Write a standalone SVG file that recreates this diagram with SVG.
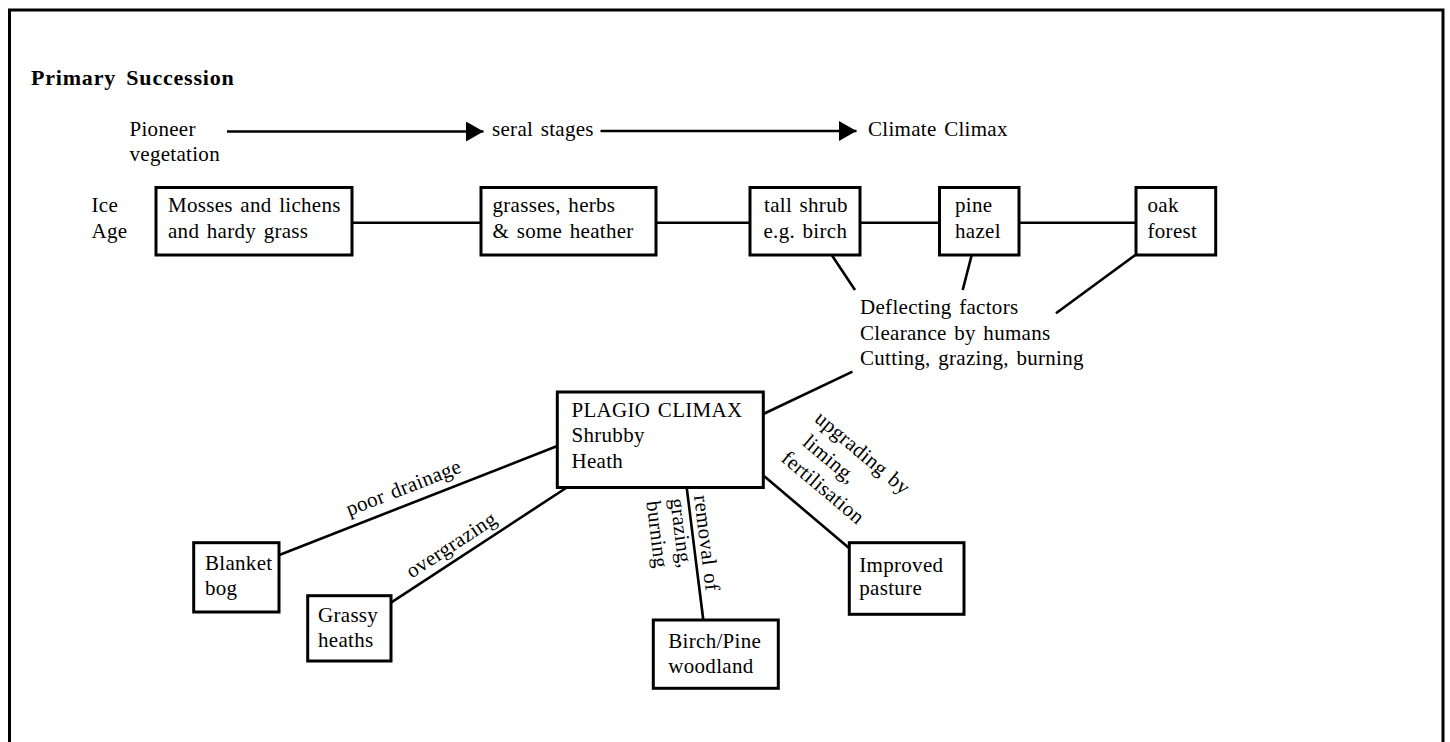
<svg xmlns="http://www.w3.org/2000/svg" width="1450" height="742" viewBox="0 0 1450 742">
<style>
  text { font-family: "Liberation Serif", "Times New Roman", serif; font-size: 21px; fill: #000; letter-spacing: 0.3px; word-spacing: 2px; }
  .title { font-weight: bold; font-size: 22px; letter-spacing: 0.8px; word-spacing: 4px; }
  .box { fill: #fff; stroke: #000; stroke-width: 3; }
  .ln { stroke: #000; stroke-width: 2.6; fill: none; }
  .frame { fill: none; stroke: #000; stroke-width: 3; }
</style>
<defs>
  <marker id="arr" markerUnits="userSpaceOnUse" markerWidth="18" markerHeight="20" refX="17.5" refY="10" orient="auto">
    <path d="M0,0 L17.5,10 L0,20 Z" fill="#000"/>
  </marker>
</defs>
<rect width="1450" height="742" fill="#fff"/>
<rect class="frame" x="9.5" y="10" width="1433.5" height="745"/>
<text class="title" x="31" y="85">Primary Succession</text>

<g id="labels-top">
  <text x="129.5" y="136">Pioneer</text>
  <text x="129.5" y="161">vegetation</text>
  <text x="492" y="136">seral stages</text>
  <text x="868" y="136">Climate Climax</text>
  <text x="91.5" y="212">Ice</text>
  <text x="91.5" y="238">Age</text>
</g>

<g id="connectors">
  <line class="ln" x1="227" y1="131.5" x2="483.5" y2="131.5" marker-end="url(#arr)"/>
  <line class="ln" x1="600.5" y1="131" x2="856.5" y2="131" marker-end="url(#arr)"/>
  <line class="ln" x1="352" y1="222.7" x2="481" y2="222.7"/>
  <line class="ln" x1="656" y1="222.7" x2="750" y2="222.7"/>
  <line class="ln" x1="860" y1="222.7" x2="939.5" y2="222.7"/>
  <line class="ln" x1="1019" y1="222.7" x2="1136" y2="222.7"/>
  <line class="ln" x1="831.7" y1="255" x2="855" y2="290"/>
  <line class="ln" x1="971.7" y1="255" x2="962.7" y2="290"/>
  <line class="ln" x1="1136" y1="254.5" x2="1056" y2="313.3"/>
  <line class="ln" x1="763.3" y1="414" x2="852.5" y2="371.7"/>
  <line class="ln" x1="557.3" y1="446" x2="279.3" y2="555"/>
  <line class="ln" x1="566" y1="488" x2="391" y2="602.7"/>
  <line class="ln" x1="686.7" y1="487.7" x2="703.3" y2="620"/>
  <line class="ln" x1="764" y1="476" x2="849.3" y2="548.3"/>
  <text transform="translate(406 494) rotate(-21.4)" text-anchor="middle">poor drainage</text>
  <text transform="translate(455 550.5) rotate(-33.2)" text-anchor="middle">overgrazing</text>
  <g transform="translate(694 496) rotate(83)">
    <text x="0" y="0">removal of</text>
    <text x="0" y="24">grazing,</text>
    <text x="0" y="48">burning</text>
  </g>
  <g transform="translate(813.5 420.5) rotate(40)">
    <text x="0" y="0">upgrading by</text>
    <text x="6" y="26">liming,</text>
    <text x="0" y="52">fertilisation</text>
  </g>
</g>

<g id="deflecting">
  <text x="860" y="314">Deflecting factors</text>
  <text x="860" y="339.5">Clearance by humans</text>
  <text x="860" y="365">Cutting, grazing, burning</text>
</g>

<g id="mosses">
  <rect class="box" x="156" y="187.5" width="196" height="67.5"/>
  <text x="168" y="212">Mosses and lichens</text>
  <text x="168" y="238">and hardy grass</text>
</g>
<g id="grasses">
  <rect class="box" x="481" y="187.5" width="175" height="67.5"/>
  <text x="492.5" y="212">grasses, herbs</text>
  <text x="492.5" y="238">&amp; some heather</text>
</g>
<g id="tallshrub">
  <rect class="box" x="750" y="187.5" width="110" height="67.5"/>
  <text x="764" y="212">tall shrub</text>
  <text x="763.5" y="238">e.g. birch</text>
</g>
<g id="pine">
  <rect class="box" x="939.5" y="187.5" width="79.5" height="67.5"/>
  <text x="955" y="212">pine</text>
  <text x="955" y="238">hazel</text>
</g>
<g id="oak">
  <rect class="box" x="1136" y="187.5" width="79.7" height="67.5"/>
  <text x="1147.5" y="212">oak</text>
  <text x="1147.5" y="238">forest</text>
</g>
<g id="plagio">
  <rect class="box" x="557.3" y="392" width="206" height="95.5"/>
  <text x="571.5" y="416.5">PLAGIO CLIMAX</text>
  <text x="571.5" y="442">Shrubby</text>
  <text x="571.5" y="467.5">Heath</text>
</g>
<g id="blanket">
  <rect class="box" x="193.7" y="542.7" width="85.3" height="69.3"/>
  <text x="205" y="570">Blanket</text>
  <text x="205" y="595">bog</text>
</g>
<g id="grassy">
  <rect class="box" x="307.7" y="595.7" width="83.3" height="65.3"/>
  <text x="318" y="621.7">Grassy</text>
  <text x="318" y="647">heaths</text>
</g>
<g id="birchpine">
  <rect class="box" x="653.3" y="620" width="125" height="68.3"/>
  <text x="668.3" y="648.3">Birch/Pine</text>
  <text x="668.3" y="672.7">woodland</text>
</g>
<g id="improved">
  <rect class="box" x="849.3" y="542.7" width="114.7" height="71.6"/>
  <text x="859.3" y="571.7">Improved</text>
  <text x="859.3" y="595">pasture</text>
</g>
</svg>
